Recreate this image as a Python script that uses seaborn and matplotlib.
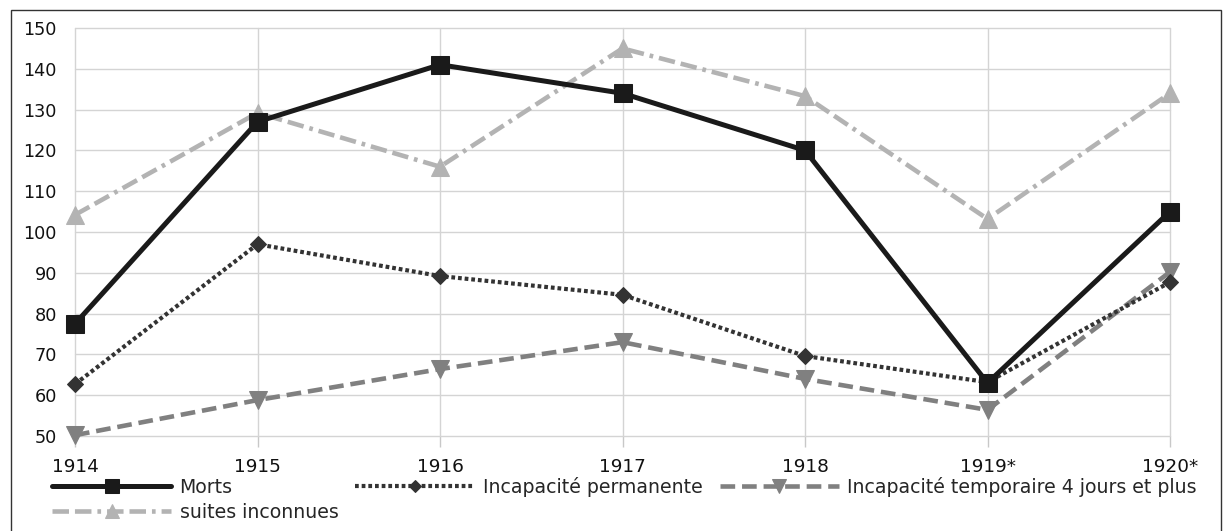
import matplotlib
matplotlib.use("Agg")
import matplotlib.pyplot as plt
import matplotlib.patches as mpatches
import seaborn as sns
import pandas as pd

years = ["1914", "1915", "1916", "1917", "1918", "1919*", "1920*"]
morts = [77.5, 127, 141, 134, 120, 63, 105]
incap_perm = [62.7, 97, 89.2, 84.6, 69.6, 63.2, 87.7]
incap_temp = [50.2, 58.8, 66.4, 73, 64, 56.4, 90.2]
suites_inc = [104.2, 129.2, 116, 145, 133.3, 103.2, 134]

sns.set_theme(style="white")
plt.rcParams["font.family"] = ["DejaVu Sans"]

df = pd.DataFrame({"pos": range(len(years)), "year": years, "Morts": morts,
                   "Incapacité permanente": incap_perm,
                   "Incapacité temporaire 4 jours et plus": incap_temp,
                   "suites inconnues": suites_inc})

fig = plt.figure(figsize=(12.24, 5.31), dpi=100)
ax = fig.add_axes([75 / 1224, 1 - 436 / 531, (1170 - 75) / 1224, (436 - 28) / 531])

sns.lineplot(data=df, x="pos", y="Morts", ax=ax, color="#1a1a1a", lw=3.6,
             marker="s", markersize=13, markeredgecolor="#1a1a1a", label="Morts",
             zorder=5, clip_on=False)
sns.lineplot(data=df, x="pos", y="suites inconnues", ax=ax, color="#b3b3b3", lw=3.3,
             linestyle=(0, (3.6, 1.3, 3.6, 1.3, 0.8, 1.3)),
             marker="^", markersize=13, markeredgecolor="#b3b3b3", label="suites inconnues",
             zorder=3, clip_on=False)
sns.lineplot(data=df, x="pos", y="Incapacité permanente", ax=ax, color="#333333", lw=3,
             linestyle=(0, (0.9, 0.7)),
             marker="D", markersize=8.5, markeredgecolor="#333333", label="Incapacité permanente",
             zorder=4, clip_on=False)
sns.lineplot(data=df, x="pos", y="Incapacité temporaire 4 jours et plus", ax=ax, color="#808080",
             lw=3.3, linestyle=(0, (3.2, 1.5)),
             marker="v", markersize=13, markeredgecolor="#808080",
             label="Incapacité temporaire 4 jours et plus", zorder=3, clip_on=False)

ax.set_xlim(0, len(years) - 1)
ax.set_ylim(50, 150)
ax.set_yticks(range(50, 151, 10))
ax.set_xticks(range(len(years)))
ax.set_xticklabels(years, fontsize=13.3)
ax.tick_params(axis="y", labelsize=12.7, length=0, pad=13, labelcolor="#111111")
ax.tick_params(axis="x", length=8, width=1, color="#c8c8c8", pad=8, labelcolor="#111111",
               bottom=True)
ax.grid(True, color="#d4d4d4", lw=1, zorder=0)
ax.set_axisbelow(True)
for gl in ax.get_xgridlines() + ax.get_ygridlines():
    gl.set_clip_on(False)
for s in ax.spines.values():
    s.set_visible(False)
ax.set_xlabel("")
ax.set_ylabel("")

h, l = ax.get_legend_handles_labels()
ax.legend(h, l, ncol=3, frameon=False, loc="upper left",
          bbox_to_anchor=(52 / 1224, 1 - 477 / 531), bbox_transform=fig.transFigure,
          prop={"size": 13.6}, markerscale=0.75,
          handlelength=6.3, handletextpad=0.45, columnspacing=0.9,
          labelspacing=0.3, borderpad=0, borderaxespad=0)

fig.add_artist(mpatches.Rectangle((11 / 1224, -0.1), (1221 - 11) / 1224, 1.1 - 10 / 531,
                                  transform=fig.transFigure, fill=False, ec="#333333", lw=1))

fig.savefig("out.png", dpi=100)
